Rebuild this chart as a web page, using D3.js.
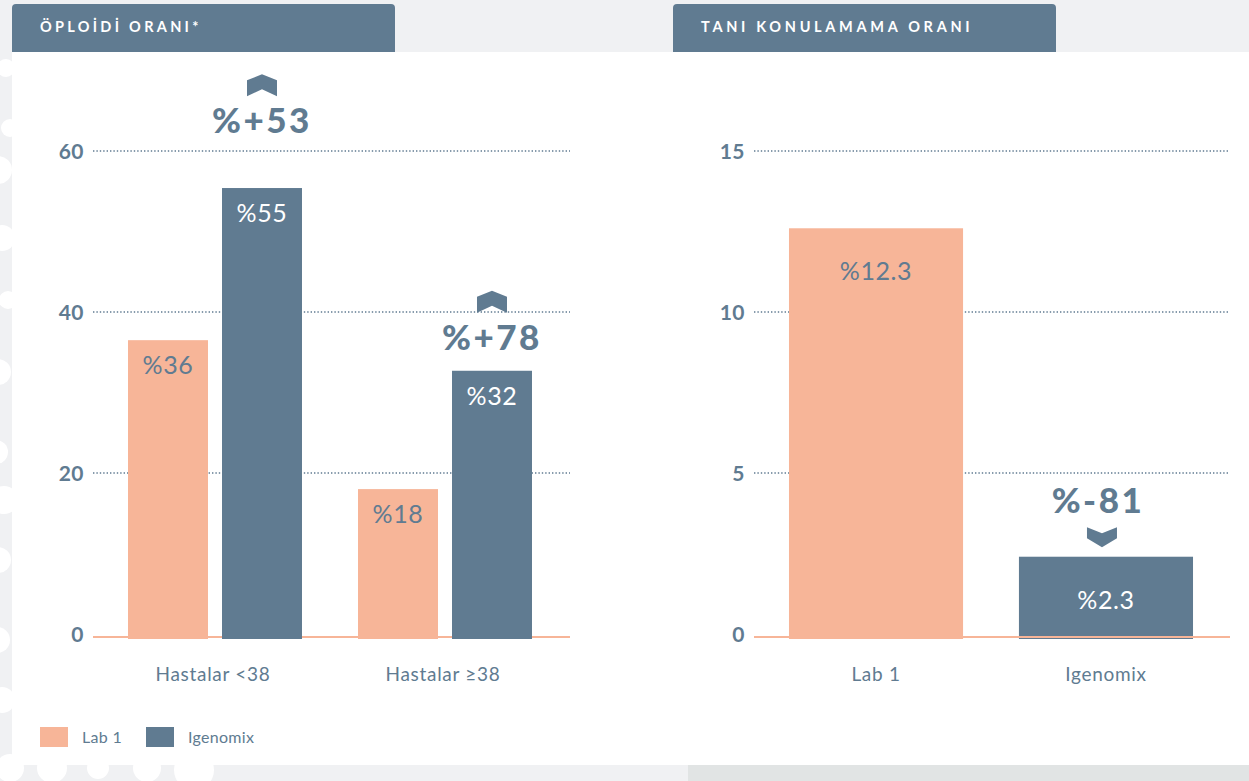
<!DOCTYPE html>
<html>
<head>
<meta charset="utf-8">
<script src="https://cdn.jsdelivr.net/npm/d3@7"></script>
<style>
  html, body { margin: 0; padding: 0; background: #f0f1f3; }
  svg { display: block; font-family: "Lato", sans-serif; }
</style>
</head>
<body>
<div id="chart"></div>
<script>
// ---------- Data ----------
const seriesNames = ["Lab 1", "Igenomix"];
const ageGroups = ["Hastalar <38", "Hastalar ≥38"];

const lab1Euploid = [36.5, 18.0];
const igenomixEuploid = [55.4, 32.7];
const lab1EuploidLabels = ["%36", "%18"];
const igenomixEuploidLabels = ["%55", "%32"];
const euploidChange = ["%+53", "%+78"];
const euploidChangeAt = [62.2, 35.3];
const euploidTicks = [0, 20, 40, 60];

const labs = ["Lab 1", "Igenomix"];
const noDiagnosis = [12.6, 2.4];
const noDiagnosisLabels = ["%12.3", "%2.3"];
const noDiagnosisChange = "%-81";
const noDiagnosisChangeAt = 3.75;
const noDiagnosisTicks = [0, 5, 10, 15];

// ---------- Layout ----------
const width = 1249;
const height = 781;
const blue = "#607b91";
const peach = "#f7b598";

const svg = d3.select("#chart")
  .append("svg")
  .attr("width", width)
  .attr("height", height);

// ---------- Background ----------
svg.append("rect")
  .attr("width", width).attr("height", height)
  .attr("fill", "#f0f1f3");
svg.append("rect")
  .attr("x", 688).attr("y", 765)
  .attr("width", width - 688).attr("height", height - 765)
  .attr("fill", "#e1e4e4");

// decorative bubbles along the edge
const bubbles = [
  [6, 68, 9], [10, 128, 9], [-2, 170, 14], [2, 238, 13],
  [8, 300, 9], [-2, 372, 13], [-4, 452, 12], [4, 500, 14],
  [-2, 560, 13], [-3, 640, 13], [2, 700, 13],
  [10, 768, 14], [52, 768, 15], [98, 768, 11], [147, 768, 14], [194, 770, 20]
];
svg.append("g")
  .selectAll("circle")
  .data(bubbles)
  .join("circle")
  .attr("cx", d => d[0])
  .attr("cy", d => d[1])
  .attr("r", d => d[2])
  .attr("fill", "#fff");

svg.append("rect")
  .attr("x", 12).attr("y", 52)
  .attr("width", width - 12).attr("height", 713)
  .attr("fill", "#fff");

// ---------- Tabs ----------
function tab(x, label, spacing) {
  svg.append("path")
    .attr("d", `M${x},52 V8 Q${x},4 ${x + 4},4 H${x + 379} Q${x + 383},4 ${x + 383},8 V52 Z`)
    .attr("fill", blue);
  svg.append("text")
    .attr("x", x + 28)
    .attr("y", 32)
    .attr("fill", "#fff")
    .attr("font-size", 14.5)
    .attr("font-weight", 700)
    .attr("letter-spacing", spacing)
    .text(label);
}
tab(12, "ÖPLOİDİ ORANI*", 3.3);
tab(673, "TANI KONULAMAMA ORANI", 3.7);

// ---------- Helpers ----------
function chevronUp(g, cx, by) {
  g.append("path")
    .attr("d", `M${cx - 15},${by - 16} L${cx},${by - 22} L${cx + 15},${by - 16} L${cx + 15},${by} L${cx},${by - 7} L${cx - 15},${by} Z`)
    .attr("fill", blue);
}
function chevronDown(g, cx, ty) {
  g.append("path")
    .attr("d", `M${cx - 15},${ty} L${cx},${ty + 6} L${cx + 15},${ty} L${cx + 15},${ty + 11} L${cx},${ty + 20} L${cx - 15},${ty + 11} Z`)
    .attr("fill", blue);
}
function yAxisGrid(g, y, ticks, x0, x1) {
  g.append("g")
    .selectAll("line")
    .data(ticks.filter(t => t > 0))
    .join("line")
    .attr("x1", x0).attr("x2", x1)
    .attr("y1", d => y(d)).attr("y2", d => y(d))
    .attr("stroke", blue)
    .attr("stroke-width", 1.4)
    .attr("stroke-dasharray", "1.4 2");
  g.append("g")
    .selectAll("text")
    .data(ticks)
    .join("text")
    .attr("x", x0 - 9)
    .attr("y", d => y(d))
    .attr("dy", "0.36em")
    .attr("text-anchor", "end")
    .attr("fill", blue)
    .attr("font-size", 21)
    .attr("font-weight", 700)
    .attr("letter-spacing", 0.5)
    .text(d => d);
}
function baseline(g, y, x0, x1) {
  g.append("line")
    .attr("x1", x0).attr("x2", x1)
    .attr("y1", y(0) + 3).attr("y2", y(0) + 3)
    .attr("stroke", peach)
    .attr("stroke-width", 2);
}
function changeLabel(g, cx, y, text) {
  g.append("text")
    .attr("x", cx)
    .attr("y", y)
    .attr("text-anchor", "middle")
    .attr("font-size", 35)
    .attr("font-weight", 900)
    .attr("letter-spacing", 2.5)
    .attr("fill", blue)
    .text(text);
}

// ---------- Left chart: euploid rate ----------
const left = svg.append("g");
const yL = d3.scaleLinear().domain([0, 60]).range([634, 151]);
const xL = d3.scaleBand().domain(ageGroups).range([100, 560]);
const xSeries = d3.scaleBand().domain(seriesNames).range([0, xL.bandwidth()])
  .paddingInner(0.149).paddingOuter(0.298);

yAxisGrid(left, yL, euploidTicks, 93, 570);
baseline(left, yL, 93, 570);

const leftRows = ageGroups.map((g, i) => [
  { group: g, series: "Lab 1", value: lab1Euploid[i], label: lab1EuploidLabels[i] },
  { group: g, series: "Igenomix", value: igenomixEuploid[i], label: igenomixEuploidLabels[i] }
]).flat();

left.append("g")
  .selectAll("rect")
  .data(leftRows)
  .join("rect")
  .attr("x", d => xL(d.group) + xSeries(d.series))
  .attr("y", d => yL(d.value))
  .attr("width", xSeries.bandwidth())
  .attr("height", d => yL(0) + 5 - yL(d.value))
  .attr("fill", d => d.series === "Lab 1" ? peach : blue);

left.append("g")
  .selectAll("text")
  .data(leftRows)
  .join("text")
  .attr("x", d => xL(d.group) + xSeries(d.series) + xSeries.bandwidth() / 2)
  .attr("y", d => yL(d.value) + 34)
  .attr("text-anchor", "middle")
  .attr("font-size", 25)
  .attr("letter-spacing", 0.6)
  .attr("fill", d => d.series === "Lab 1" ? blue : "#fff")
  .text(d => d.label);

left.append("g")
  .selectAll("text")
  .data(ageGroups)
  .join("text")
  .attr("x", d => xL(d) + xL.bandwidth() / 2 - 2)
  .attr("y", 681)
  .attr("text-anchor", "middle")
  .attr("font-size", 19)
  .attr("letter-spacing", 0.7)
  .attr("fill", blue)
  .text(d => d);

ageGroups.forEach((g, i) => {
  const cx = xL(g) + xSeries("Igenomix") + xSeries.bandwidth() / 2;
  const by = yL(euploidChangeAt[i]);
  changeLabel(left, cx, by, euploidChange[i]);
  chevronUp(left, cx, by - 37);
});

// ---------- Right chart: no diagnosis rate ----------
const right = svg.append("g");
const yR = d3.scaleLinear().domain([0, 15]).range([634, 151]);
const xR = d3.scaleBand().domain(labs).range([761, 1221])
  .paddingInner(0.243).paddingOuter(0.1217);

yAxisGrid(right, yR, noDiagnosisTicks, 754, 1230);

const rightRows = labs.map((l, i) => ({ lab: l, value: noDiagnosis[i], label: noDiagnosisLabels[i] }));

right.append("g")
  .selectAll("rect")
  .data(rightRows)
  .join("rect")
  .attr("x", d => xR(d.lab))
  .attr("y", d => yR(d.value))
  .attr("width", xR.bandwidth())
  .attr("height", d => yR(0) + 5 - yR(d.value))
  .attr("fill", d => d.lab === "Lab 1" ? peach : blue);

baseline(right, yR, 754, 1230);
right.select("line").lower();

right.append("g")
  .selectAll("text")
  .data(rightRows)
  .join("text")
  .attr("x", d => xR(d.lab) + xR.bandwidth() / 2)
  .attr("y", d => yR(d.value) + 52)
  .attr("text-anchor", "middle")
  .attr("font-size", 25)
  .attr("letter-spacing", 0.6)
  .attr("fill", d => d.lab === "Lab 1" ? blue : "#fff")
  .text(d => d.label);

right.append("g")
  .selectAll("text")
  .data(labs)
  .join("text")
  .attr("x", d => xR(d) + xR.bandwidth() / 2)
  .attr("y", 681)
  .attr("text-anchor", "middle")
  .attr("font-size", 19)
  .attr("letter-spacing", 0.7)
  .attr("fill", blue)
  .text(d => d);

{
  const cx = xR("Igenomix") + xR.bandwidth() / 2;
  const by = yR(noDiagnosisChangeAt);
  changeLabel(right, cx - 8, by, noDiagnosisChange);
  chevronDown(right, cx - 4, by + 14);
}

// ---------- Legend ----------
const legend = svg.append("g")
  .selectAll("g")
  .data(seriesNames)
  .join("g")
  .attr("transform", (d, i) => `translate(${40 + i * 106},727)`);

legend.append("rect")
  .attr("width", 28)
  .attr("height", 20)
  .attr("fill", d => d === "Lab 1" ? peach : blue);

legend.append("text")
  .attr("x", 42)
  .attr("y", 16)
  .attr("font-size", 16)
  .attr("letter-spacing", 0.3)
  .attr("fill", blue)
  .text(d => d);
</script>
</body>
</html>
